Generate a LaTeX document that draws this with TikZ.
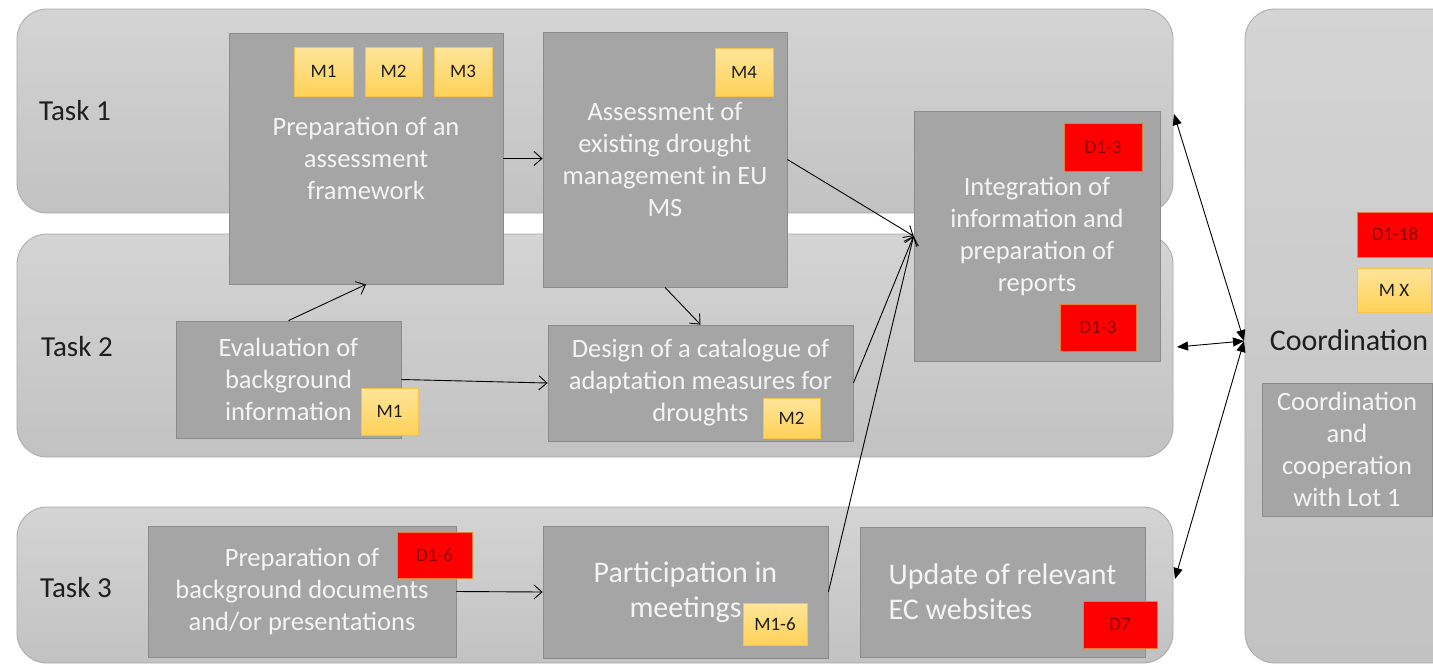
\documentclass[tikz,border=0pt]{standalone}
\usepackage{fontspec}
\setmainfont{Carlito}
\usetikzlibrary{arrows.meta}
\definecolor{bandtop}{HTML}{D4D4D4}
\definecolor{bandbot}{HTML}{C2C2C2}
\definecolor{bandline}{HTML}{A8A8A8}
\definecolor{boxfill}{HTML}{A5A5A5}
\definecolor{boxline}{HTML}{8C8C8C}
\definecolor{boxtext}{HTML}{F4F4F4}
\definecolor{ytop}{HTML}{FFE59A}
\definecolor{ybot}{HTML}{FFD158}
\definecolor{yline}{HTML}{F2C14E}
\definecolor{rfill}{HTML}{FF0000}
\definecolor{rline}{HTML}{ED7D31}
\definecolor{rtext}{HTML}{8A0000}
\definecolor{labtext}{HTML}{1E1E1E}
\tikzset{
  band/.style={draw=bandline, line width=0.8pt, rounded corners=30pt, top color=bandtop, bottom color=bandbot, inner sep=0pt},
  wbox/.style={draw=boxline, line width=0.8pt, fill=boxfill, text=boxtext, align=center, inner sep=0pt, font=\fontsize{26.5}{32}\selectfont},
  bigbox/.style={wbox, font=\fontsize{30}{35}\selectfont},
  ms/.style={draw=yline, line width=0.8pt, top color=ytop, bottom color=ybot, text=labtext, inner sep=0pt, font=\fontsize{19}{21}\selectfont},
  dl/.style={draw=rline, line width=1pt, fill=rfill, text=rtext, inner sep=0pt, font=\fontsize{19}{21}\selectfont},
  tasklab/.style={text=labtext, font=\fontsize{29}{33}\selectfont},
  arr/.style={draw=black, line width=0.9pt, -{Straight Barb[length=8pt,width=14pt,line width=0.9pt]}},
  darr/.style={draw=black, line width=0.9pt, {Triangle[length=11pt,width=9pt]}-{Triangle[length=11pt,width=9pt]}}
}
\begin{document}
\begin{tikzpicture}[x=1pt,y=-1pt]
\clip (0,0) rectangle (1433,665);
\fill[white] (0,0) rectangle (1433,665);
% bands
\node[band, minimum width=1156, minimum height=204] (t1) at (595,111) {};
\node[band, minimum width=1156, minimum height=223] (t2) at (595,345.5) {};
\node[band, minimum width=1156, minimum height=156] (t3) at (595,585) {};
\node[band, minimum width=230, minimum height=654] (cb) at (1360,336) {};
% task labels
\node[tasklab] (l1) at (75,111) {Task 1};
\node[tasklab] (l2) at (77,347) {Task 2};
\node[tasklab] (l3) at (76,588) {Task 3};
\node[text=labtext, font=\fontsize{30}{34}\selectfont] (coordlab) at (1349,340) {Coordination};
% work boxes
\node[wbox, minimum width=274, minimum height=251] (prep) at (366,158.5) {Preparation of an\\assessment\\framework};
\node[wbox, minimum width=244, minimum height=255] (assess) at (665,159.5) {Assessment of\\existing drought\\management in EU\\MS};
\node[wbox, minimum width=246, minimum height=250] (integ) at (1037,236) {Integration of\\information and\\preparation of\\reports};
\node[wbox, minimum width=225, minimum height=117] (eval) at (288.5,379.5) {Evaluation of\\background\\information};
\node[wbox, minimum width=305, minimum height=116] (design) at (700.5,383) {Design of a catalogue of\\adaptation measures for\\droughts};
\node[wbox, minimum width=308, minimum height=131] (prepbg) at (302,591.5) {Preparation of\\background documents\\and/or presentations};
\node[bigbox, minimum width=285, minimum height=132] (partic) at (685.5,592) {Participation in\\meetings};
\node[bigbox, align=left, minimum width=285, minimum height=130] (update) at (1002.5,592) {Update of relevant\\EC websites};
\node[wbox, minimum width=170, minimum height=133] (lot) at (1347,449.5) {Coordination\\and\\cooperation\\with Lot 1};
% connectors
\draw[arr] (prep.east) -- (prep.east -| assess.west);
\draw[arr] (eval.north) -- (prep.south);
\draw[arr] (assess.south) -- (design.north);
\draw[arr] (eval.east) -- (design.west);
\draw[arr] (assess.east) -- (integ.west);
\draw[arr] (design.east) -- (integ.west);
\draw[arr] (partic.east) -- (integ.west);
\draw[arr] (prepbg.east) -- (partic.west);
\coordinate (hub) at (1244,341);
\coordinate (c1) at (1174,114);
\coordinate (c2) at (1177,347);
\coordinate (c3) at (1175,579);
\draw[darr] (c1) -- (hub);
\draw[darr] (c2) -- (hub);
\draw[darr] (c3) -- (hub);
% milestones
\node[ms, minimum width=59, minimum height=49] (m1a) at (323.5,71.5) {M1};
\node[ms, minimum width=57, minimum height=49] (m2a) at (393.5,71.5) {M2};
\node[ms, minimum width=58, minimum height=49] (m3a) at (463,71.5) {M3};
\node[ms, minimum width=58, minimum height=48] (m4) at (744,72) {M4};
\node[ms, minimum width=57, minimum height=47] (m1b) at (389.5,411.5) {M1};
\node[ms, minimum width=57, minimum height=40] (m2b) at (791.5,418) {M2};
\node[ms, minimum width=64, minimum height=42] (m16) at (775,624) {M1-6};
\node[ms, minimum width=74, minimum height=44] (mx) at (1394,290) {M X};
% deliverables
\node[dl, minimum width=76, minimum height=45] (d118) at (1395,234.5) {D1-18};
\node[dl, minimum width=78, minimum height=48] (d13a) at (1103,147) {D1-3};
\node[dl, minimum width=76, minimum height=47] (d13b) at (1098,327.5) {D1-3};
\node[dl, minimum width=75, minimum height=46] (d16) at (434.5,555) {D1-6};
\node[dl, minimum width=74, minimum height=47] (d7) at (1120,624.5) {D7};
\end{tikzpicture}
\end{document}
